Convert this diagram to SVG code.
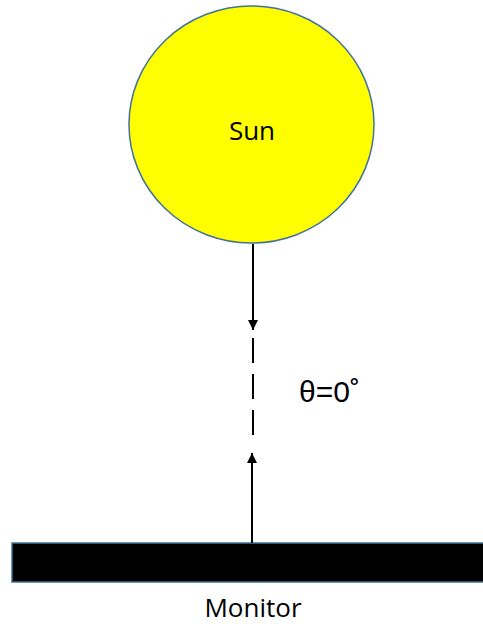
<svg xmlns="http://www.w3.org/2000/svg" width="483" height="624" viewBox="0 0 483 624">
<style>
.lbl{font-family:"Open Sans","Liberation Sans",sans-serif;fill:#000;text-anchor:middle}
.ray{stroke:#000;stroke-width:2;fill:none}
</style>
<defs>
<marker id="ah" viewBox="0 0 10 10" refX="10" refY="5" markerWidth="5" markerHeight="5.5" markerUnits="strokeWidth" orient="auto">
<path d="M0,0 L10,5 L0,10 z" fill="#000"/>
</marker>
</defs>
<rect width="483" height="624" fill="#fff"/>
<g id="sun">
<ellipse cx="251.5" cy="124.5" rx="122.5" ry="118.5" fill="#ffff00" stroke="#41719c" stroke-width="1.5"/>
<text class="lbl" x="252" y="140" font-size="26">Sun</text>
</g>
<g id="monitor">
<rect x="12" y="543" width="480" height="39" fill="#000" stroke="#41719c" stroke-width="1.5"/>
<text class="lbl" x="253" y="617" font-size="26">Monitor</text>
</g>
<g id="angle">
<text x="299" y="402" font-family="Liberation Sans, Arial, sans-serif" font-size="30" fill="#000">θ=0˚</text>
</g>
<g id="connectors">
<line class="ray" x1="253" y1="244" x2="253" y2="330" marker-end="url(#ah)"/>
<line class="ray" x1="253" y1="338" x2="253" y2="437" stroke-dasharray="25 11"/>
<line class="ray" x1="252" y1="543" x2="252" y2="453" marker-end="url(#ah)"/>
</g>
</svg>
